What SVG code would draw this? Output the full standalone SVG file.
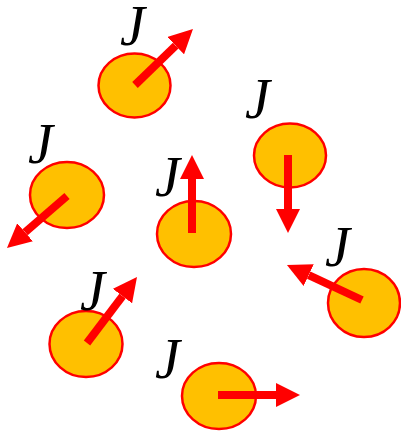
<svg xmlns="http://www.w3.org/2000/svg" width="401" height="433" viewBox="0 0 401 433">
<defs>
<style>
.ball{fill:#FFC000;stroke:#FF0000;stroke-width:2.5}
.spin{stroke:#FF0000;stroke-width:8;fill:none;marker-end:url(#head)}
.lbl{font-family:"Liberation Serif","Times New Roman",serif;font-style:italic;font-size:56px;fill:#000}
</style>
<marker id="head" markerUnits="userSpaceOnUse" viewBox="0 0 24 24" markerWidth="24" markerHeight="24" refX="0" refY="12" orient="auto">
<path d="M0,0 L24,12 L0,24 Z" fill="#FF0000"/>
</marker>
</defs>
<rect width="401" height="433" fill="#fff"/>
<g id="n1"><ellipse class="ball" cx="134.5" cy="85.5" rx="36" ry="32"/><line class="spin" x1="135" y1="85" x2="175.7" y2="45.7"/><text class="lbl" x="120" y="45">J</text></g>
<g id="n2"><ellipse class="ball" cx="67" cy="195" rx="37" ry="33"/><line class="spin" x1="67" y1="196" x2="25.1" y2="232.3"/><text class="lbl" x="28" y="163">J</text></g>
<g id="n3"><ellipse class="ball" cx="290" cy="155.5" rx="36" ry="32"/><line class="spin" x1="288" y1="155" x2="288" y2="209"/><text class="lbl" x="245" y="118">J</text></g>
<g id="n4"><ellipse class="ball" cx="194" cy="234" rx="37" ry="33"/><line class="spin" x1="192" y1="233" x2="192" y2="179"/><text class="lbl" x="155" y="196">J</text></g>
<g id="n5"><ellipse class="ball" cx="364" cy="303" rx="36" ry="34"/><line class="spin" x1="362" y1="300" x2="308.7" y2="275.1"/><text class="lbl" x="325" y="266">J</text></g>
<g id="n6"><ellipse class="ball" cx="86" cy="344" rx="36.5" ry="33"/><line class="spin" x1="87" y1="343" x2="122.5" y2="296.1"/><text class="lbl" x="80" y="310">J</text></g>
<g id="n7"><ellipse class="ball" cx="219" cy="396" rx="37" ry="33"/><line class="spin" x1="218" y1="395" x2="276" y2="395"/><text class="lbl" x="155" y="378">J</text></g>
</svg>
